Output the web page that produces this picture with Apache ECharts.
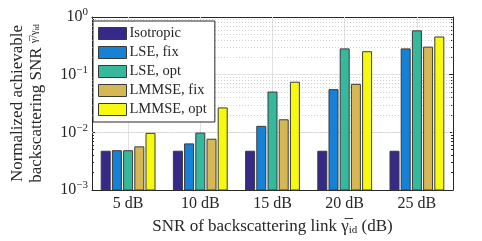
<!DOCTYPE html>
<html><head><meta charset="utf-8">
<script src="https://cdn.jsdelivr.net/npm/echarts@6/dist/echarts.min.js"></script>
<style>html,body{margin:0;padding:0;background:#fff}#c{width:482px;height:241px}</style>
</head><body><div id="c"></div>
<script>
var categories = ['5 dB', '10 dB', '15 dB', '20 dB', '25 dB'];
var seriesNames = ['Isotropic', 'LSE, fix', 'LSE, opt', 'LMMSE, fix', 'LMMSE, opt'];
var isotropic = [0.0047, 0.0047, 0.0047, 0.0047, 0.0047];
var lseFix = [0.0048, 0.0063, 0.0127, 0.055, 0.28];
var lseOpt = [0.0048, 0.0097, 0.050, 0.28, 0.575];
var lmmseFix = [0.0056, 0.0076, 0.0165, 0.068, 0.30];
var lmmseOpt = [0.0096, 0.0265, 0.074, 0.25, 0.45];
var colors = ['#352a87', '#1582d7', '#35b89b', '#d5b853', '#f8fa0d'];
var yMin = 0.001, yMax = 1;
var minorGridValues = [];
[0.001, 0.01, 0.1].forEach(function (d) { for (var k = 2; k <= 9; k++) minorGridValues.push(+(d * k).toPrecision(3)); });

var FONT = 'Liberation Serif';
var TXT = '#262626';
var allData = [isotropic, lseFix, lseOpt, lmmseFix, lmmseOpt];
var BAR_W = 9, BAR_GAP = 2.2;

function makeRender(idx) {
  return function (params, api) {
    var ci = api.value(0), v = api.value(1);
    var top = api.coord([ci, v]);
    var base = api.coord([ci, yMin]);
    var off = (idx - 2) * (BAR_W + BAR_GAP);
    var x = top[0] + off - BAR_W / 2;
    return {
      type: 'rect',
      shape: { x: x, y: top[1], width: BAR_W, height: base[1] - top[1] },
      style: { fill: colors[idx], stroke: '#3a3a3a', lineWidth: 1 },
      z2: 3
    };
  };
}

var series = allData.map(function (d, i) {
  return {
    name: seriesNames[i], type: 'custom', renderItem: makeRender(i),
    data: d.map(function (v, j) { return [j, v]; }),
    encode: { x: 0, y: 1 },
    itemStyle: { color: colors[i], borderColor: '#3a3a3a', borderWidth: 1 },
    emphasis: { disabled: true }, z: 3, silent: true
  };
});
series.push({
  name: 'grid', type: 'line', data: [], z: 1, silent: true,
  markLine: {
    silent: true, symbol: 'none', z: 1, label: { show: false }, animation: false,
    data: categories.map(function (c) { return { xAxis: c, lineStyle: { color: '#e2e2e2', type: 'solid', width: 1 } }; })
      .concat(minorGridValues.map(function (v) { return { yAxis: v, lineStyle: { color: '#cfcfcf', type: [1, 2], width: 1 } }; }))
  }
});

function supLabel(v) {
  var e = Math.round(Math.log10(v));
  return '{b|10}{s|' + (e < 0 ? '\u2212' + (-e) : e) + '}';
}

var chart = echarts.init(document.getElementById('c'), null, { renderer: 'canvas' });
chart.setOption({
  animation: false,
  textStyle: { fontFamily: FONT, color: TXT },
  grid: { left: 90, right: 29, top: 17, bottom: 49 },
  legend: {
    orient: 'vertical', left: 93, top: 21,
    itemWidth: 28, itemHeight: 12, itemGap: 4,
    padding: [5, 8, 5, 5],
    borderColor: '#262626', borderWidth: 1, backgroundColor: '#fff',
    textStyle: { fontFamily: FONT, fontSize: 14.5, color: TXT, lineHeight: 12, padding: [0, 0, 0, -2] },
    icon: 'rect', selectedMode: false,
    data: seriesNames.map(function (n, i) { return { name: n, itemStyle: { color: colors[i], borderColor: '#3a3a3a', borderWidth: 1 } }; })
  },
  xAxis: [{
    type: 'category', data: categories, position: 'bottom',
    axisLine: { lineStyle: { color: '#262626', width: 1 } },
    axisTick: { show: false },
    axisLabel: { fontFamily: FONT, fontSize: 16, color: TXT, margin: 6 },
    splitLine: { show: false },
    name: 'SNR of backscattering link {g|\u03B3\u0305}{sub|id} (dB)', nameLocation: 'middle', nameGap: 27,
    nameTextStyle: { fontFamily: FONT, fontSize: 17, color: TXT,
      rich: { g: { fontFamily: FONT, fontSize: 17, color: TXT }, sub: { fontFamily: FONT, fontSize: 11, color: TXT, padding: [8, 0, 0, 0] } } }
  }, {
    type: 'category', data: categories, position: 'top',
    axisLine: { lineStyle: { color: '#262626', width: 1 } },
    axisTick: { show: true, inside: true, alignWithLabel: true, length: 4, lineStyle: { color: '#262626' } },
    axisLabel: { show: false }, splitLine: { show: false }
  }],
  yAxis: [{
    type: 'log', logBase: 10, min: yMin, max: yMax, position: 'left',
    axisLine: { show: true, lineStyle: { color: '#262626', width: 1 } },
    axisTick: { show: true, inside: true, length: 4, lineStyle: { color: '#262626' } },
    minorTick: { show: true, splitNumber: 9, length: 2, lineStyle: { color: '#262626' } },
    axisLabel: { margin: 4, formatter: supLabel,
      rich: { b: { fontFamily: FONT, fontSize: 16, color: TXT }, s: { fontFamily: FONT, fontSize: 11, color: TXT, padding: [0, 0, 9, 0] } } },
    splitLine: { show: true, lineStyle: { color: '#e2e2e2', width: 1 } },
    name: '{a|Normalized achievable}\n{a|backscattering SNR }{f|\u03B3\u0305/\u03B3}{sub|id}',
    nameLocation: 'middle', nameGap: 46, nameRotate: 90,
    nameTextStyle: { fontFamily: FONT, fontSize: 17, color: TXT, lineHeight: 19,
      rich: { a: { fontFamily: FONT, fontSize: 17, color: TXT, lineHeight: 19 },
              f: { fontFamily: FONT, fontSize: 11, color: TXT, padding: [0, 0, 4, 0] },
              sub: { fontFamily: FONT, fontSize: 8, color: TXT } } }
  }, {
    type: 'log', logBase: 10, min: yMin, max: yMax, position: 'right',
    axisLine: { show: true, lineStyle: { color: '#262626', width: 1 } },
    axisTick: { show: true, inside: true, length: 4, lineStyle: { color: '#262626' } },
    minorTick: { show: true, splitNumber: 9, length: 2, lineStyle: { color: '#262626' } },
    axisLabel: { show: false }, splitLine: { show: false }
  }],
  series: series
});
</script></body></html>
